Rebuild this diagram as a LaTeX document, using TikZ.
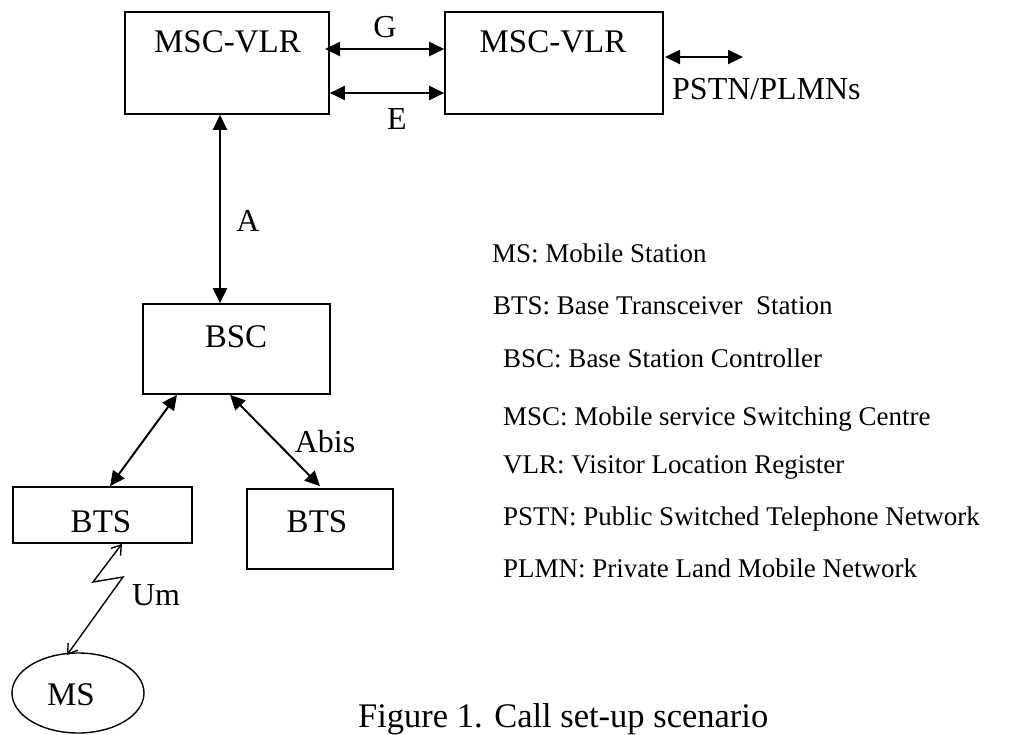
\documentclass[tikz,border=0pt]{standalone}
\usepackage{fontspec}
\setmainfont{Liberation Serif}
\usetikzlibrary{arrows.meta,shapes.geometric}
\begin{document}
\begin{tikzpicture}[x=1pt,y=-1pt,
  box/.style={draw, line width=1.6pt, rectangle, inner sep=0pt},
  oval/.style={draw, line width=1.4pt, ellipse, inner sep=0pt},
  lbl/.style={font=\fontsize{33}{40}\selectfont, anchor=base, inner sep=0pt},
  clbl/.style={font=\fontsize{32}{38}\selectfont, anchor=base, inner sep=0pt},
  leg/.style={font=\fontsize{27}{32}\selectfont, anchor=base west, inner sep=0pt},
  captext/.style={font=\fontsize{34.5}{40}\selectfont, anchor=base west, inner sep=0pt},
  dbl/.style={line width=2pt, {Triangle[length=15pt,width=14pt]}-{Triangle[length=15pt,width=14pt]}},
  um/.style={line width=1.4pt, line join=miter, {Straight Barb[length=9pt,width=12pt]}-{Straight Barb[length=9pt,width=12pt]}}
]
\clip (0,0) rectangle (1020,735);
\fill[white] (0,0) rectangle (1020,735);

% boxes
\node[box, minimum width=204, minimum height=102] (msc1) at (227,63) {};
\node[box, minimum width=218, minimum height=102] (msc2) at (554,63) {};
\node[box, minimum width=187, minimum height=90] (bsc) at (236.5,349) {};
\node[box, minimum width=179, minimum height=56] (bts1) at (102.5,515) {};
\node[box, minimum width=146, minimum height=80] (bts2) at (320,529) {};
\node[oval, minimum width=132, minimum height=80] (ms) at (78,693) {};

% box texts
\node[lbl] (t1) at (227.5,53) {MSC-VLR};
\node[lbl] (t2) at (553,53) {MSC-VLR};
\node[lbl] (t3) at (236,347) {BSC};
\node[lbl] (t4) at (101,532) {BTS};
\node[lbl] (t5) at (317,532) {BTS};
\node[lbl] (t6) at (71,705) {MS};

% connectors
\draw[dbl] (325,0 |- 0,49) -- (msc2.west |- 0,49);
\draw[dbl] (msc1.east |- 0,93) -- (msc2.west |- 0,93);
\coordinate (pstnend) at (743,57);
\draw[dbl] (665,0 |- pstnend) -- (pstnend);
\draw[dbl] (220,0 |- msc1.south) -- (220,0 |- bsc.north);
\draw[dbl] (177,0 |- bsc.south) -- (110,0 |- bts1.north);
\draw[dbl] (230,0 |- bsc.south) -- (320,0 |- bts1.north);
\draw[um] (122,0 |- bts1.south) -- (93,582) -- (123,577) -- (67,655);

% connector labels
\node[clbl] (g) at (385,38) {G};
\node[clbl] (e) at (397,130) {E};
\node[clbl] (a) at (248,232) {A};
\node[clbl] (abis) at (325,452) {Abis};
\node[clbl] (uml) at (156,605) {Um};
\node[clbl, anchor=base west] (pstn) at (672,100) {PSTN/PLMNs};

% legend
\node[leg] (l1) at (492,263) {MS: Mobile Station};
\node[leg] (l2) at (493,315) {BTS: Base Transceiver\ \ Station};
\node[leg] (l3) at (503,367) {BSC: Base\ Station Controller};
\node[leg] (l4) at (503,425) {MSC: Mobile\ service Switching Centre};
\node[leg] (l5) at (503,473) {VLR: Visitor Location\ Register};
\node[leg] (l6) at (503,525) {PSTN: Public Switched Telephone\ Network};
\node[leg] (l7) at (503,577) {PLMN: Private Land\ Mobile Network};

% caption
\node[captext] (caption) at (358,727) {Figure 1. Call set-up scenario};
\end{tikzpicture}
\end{document}
